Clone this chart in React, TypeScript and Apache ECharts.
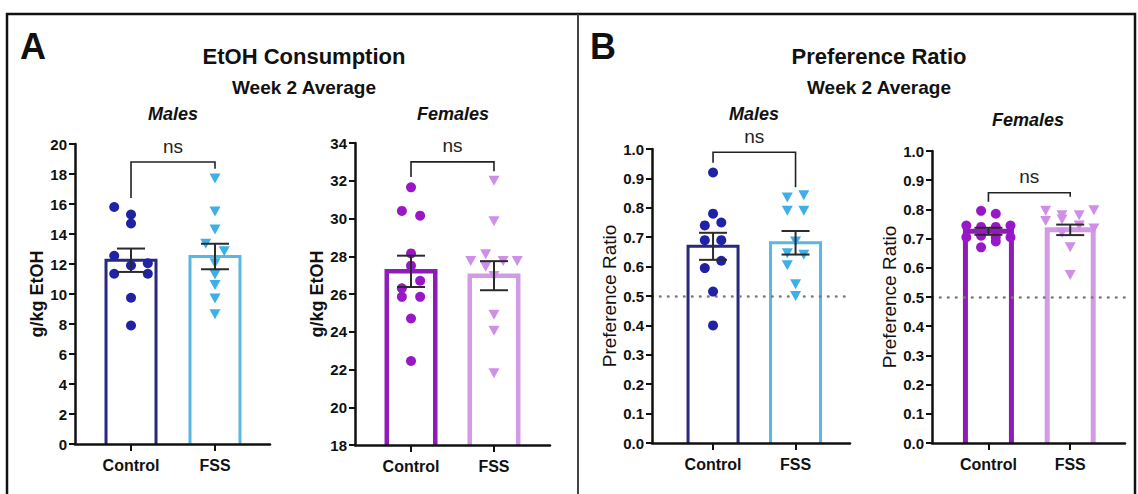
import React, { useEffect, useRef } from "react";
import * as echarts from "echarts";

// ---------- DATA ----------
const categories = ["Control", "FSS"];

// Panel A – EtOH consumption (g/kg), Males
const aMaleControl = [15.8, 15.3, 14.7, 12.55, 11.9, 12.05, 11.35, 11.35, 9.75, 7.9];
const aMaleControlJitter = [-0.2, 0, 0, -0.2, 0, 0.2, -0.2, 0.2, 0, 0];
const aMaleFSS = [17.7, 15.5, 14.3, 13.35, 12.85, 12.05, 11.3, 10.6, 9.7, 8.65];
const aMaleFSSJitter = [0, 0, 0, -0.11, 0.11, 0, 0, 0, 0, 0];
const aMaleMean = [12.25, 12.5];
const aMaleSem = [0.78, 0.85];
const aMaleBracket = [16.4, 18.8, 18.35];

// Panel A – Females
const aFemaleControl = [31.65, 30.4, 30.15, 28.15, 27.5, 26.7, 26.3, 25.85, 25.85, 24.7, 22.45];
const aFemaleControlJitter = [0, -0.11, 0.11, 0, 0, 0.11, -0.11, -0.11, 0.11, 0, 0];
const aFemaleFSS = [32.0, 29.85, 28.1, 27.75, 27.75, 27.75, 27.45, 26.95, 24.9, 24.05, 21.8];
const aFemaleFSSJitter = [0, 0, -0.1, -0.28, 0.11, 0.28, -0.1, 0, 0, 0, 0];
const aFemaleMean = [27.2, 26.97];
const aFemaleSem = [0.83, 0.77];
const aFemaleBracket = [32.2, 33.0, 32.5];

// Panel B – Preference ratio, Males
const bMaleControl = [0.92, 0.78, 0.74, 0.75, 0.69, 0.69, 0.595, 0.62, 0.515, 0.4];
const bMaleControlJitter = [0, 0, -0.1, 0.1, -0.1, 0.1, -0.1, 0.1, 0, 0];
const bMaleFSS = [0.835, 0.843, 0.79, 0.79, 0.685, 0.645, 0.64, 0.605, 0.54, 0.5];
const bMaleFSSJitter = [-0.1, 0.1, -0.1, 0.1, 0, -0.1, 0.1, -0.1, 0, 0];
const bMaleMean = [0.669, 0.681];
const bMaleSem = [0.046, 0.04];
const bMaleBracket = [0.953, 0.989, 0.87];

// Panel B – Females
const bFemaleControl = [0.795, 0.785, 0.745, 0.74, 0.74, 0.745, 0.705, 0.71, 0.705, 0.705, 0.67, 0.69];
const bFemaleControlJitter = [-0.09, 0.09, -0.27, -0.09, 0.09, 0.27, -0.27, -0.09, 0.09, 0.27, -0.09, 0.09];
const bFemaleFSS = [0.795, 0.78, 0.78, 0.797, 0.76, 0.765, 0.745, 0.735, 0.72, 0.67, 0.575];
const bFemaleFSSJitter = [-0.3, -0.1, 0.11, 0.29, -0.3, -0.1, 0.11, 0.29, -0.1, 0, 0];
const bFemaleMean = [0.725, 0.73];
const bFemaleSem = [0.012, 0.018];
const bFemaleBracket = [0.826, 0.857, 0.843];

const chanceLevel = 0.5;
const sigLabel = "ns";

// ---------- STYLE ----------
const FONT = "'Liberation Sans', Arial, Helvetica, sans-serif";
const INK = "#111";
const NAVY_DOT = "#1f22a6";
const NAVY_BAR = "#28297c";
const BLUE_DOT = "#3fafe9";
const BLUE_BAR = "#5cb6e2";
const PURPLE_DOT = "#9a17c8";
const PURPLE_BAR = "#8f1cb6";
const LILAC_DOT = "#cf8fe6";
const LILAC_BAR = "#d39be6";

type Panel = {
  grid: { left: number; top: number; width: number; height: number };
  xMin: number;
  xMax: number;
  yMin: number;
  yMax: number;
  yInterval: number;
  decimals: number;
  yName: string;
  yNameBold: boolean;
  control: number[];
  controlJitter: number[];
  fss: number[];
  fssJitter: number[];
  mean: number[];
  sem: number[];
  bracket: number[];
  colors: { cDot: string; cBar: string; fDot: string; fBar: string };
  barWidth: number;
  border: number;
  chance: boolean;
};

const panels: Panel[] = [
  {
    grid: { left: 75, top: 144, width: 195, height: 300 },
    xMin: -0.667, xMax: 1.655, yMin: 0, yMax: 20, yInterval: 2, decimals: 0,
    yName: "g/kg EtOH", yNameBold: true,
    control: aMaleControl, controlJitter: aMaleControlJitter,
    fss: aMaleFSS, fssJitter: aMaleFSSJitter,
    mean: aMaleMean, sem: aMaleSem, bracket: aMaleBracket,
    colors: { cDot: NAVY_DOT, cBar: NAVY_BAR, fDot: BLUE_DOT, fBar: BLUE_BAR },
    barWidth: 50, border: 3, chance: false,
  },
  {
    grid: { left: 355, top: 143, width: 195, height: 302 },
    xMin: -0.675, xMax: 1.675, yMin: 18, yMax: 34, yInterval: 2, decimals: 0,
    yName: "g/kg EtOH", yNameBold: true,
    control: aFemaleControl, controlJitter: aFemaleControlJitter,
    fss: aFemaleFSS, fssJitter: aFemaleFSSJitter,
    mean: aFemaleMean, sem: aFemaleSem, bracket: aFemaleBracket,
    colors: { cDot: PURPLE_DOT, cBar: PURPLE_BAR, fDot: LILAC_DOT, fBar: LILAC_BAR },
    barWidth: 48.5, border: 4.5, chance: false,
  },
  {
    grid: { left: 652, top: 149, width: 198, height: 294 },
    xMin: -0.74, xMax: 1.66, yMin: 0, yMax: 1, yInterval: 0.1, decimals: 1,
    yName: "Preference Ratio", yNameBold: false,
    control: bMaleControl, controlJitter: bMaleControlJitter,
    fss: bMaleFSS, fssJitter: bMaleFSSJitter,
    mean: bMaleMean, sem: bMaleSem, bracket: bMaleBracket,
    colors: { cDot: NAVY_DOT, cBar: NAVY_BAR, fDot: BLUE_DOT, fBar: BLUE_BAR },
    barWidth: 50, border: 3, chance: true,
  },
  {
    grid: { left: 932, top: 151, width: 193, height: 292 },
    xMin: -0.69, xMax: 1.67, yMin: 0, yMax: 1, yInterval: 0.1, decimals: 1,
    yName: "Preference Ratio", yNameBold: false,
    control: bFemaleControl, controlJitter: bFemaleControlJitter,
    fss: bFemaleFSS, fssJitter: bFemaleFSSJitter,
    mean: bFemaleMean, sem: bFemaleSem, bracket: bFemaleBracket,
    colors: { cDot: PURPLE_DOT, cBar: PURPLE_BAR, fDot: LILAC_DOT, fBar: LILAC_BAR },
    barWidth: 46, border: 5, chance: true,
  },
];

function buildOption() {
  const grid = panels.map((p) => ({ ...p.grid, containLabel: false }));
  const xAxis = panels.map((p, i) => ({
    type: "value",
    gridIndex: i,
    min: p.xMin,
    max: p.xMax,
    z: 10,
    axisLine: { show: true, onZero: false, lineStyle: { color: INK, width: 2.5 } },
    axisTick: { show: true, customValues: [0, 1], length: 7, lineStyle: { color: INK, width: 2 } },
    axisLabel: {
      show: true,
      customValues: [0, 1],
      formatter: (v: number) => categories[Math.round(v)] ?? "",
      fontFamily: FONT,
      fontSize: 16,
      fontWeight: "bold",
      color: INK,
      margin: 13,
    },
    splitLine: { show: false },
  }));
  const yAxis = panels.map((p, i) => ({
    type: "value",
    gridIndex: i,
    min: p.yMin,
    max: p.yMax,
    interval: p.yInterval,
    z: 10,
    name: p.yName,
    nameLocation: "middle",
    nameGap: p.yNameBold ? 29 : 31,
    nameTextStyle: {
      fontFamily: FONT,
      fontSize: p.yNameBold ? 18 : 19,
      fontWeight: p.yNameBold ? "bold" : "normal",
      color: INK,
    },
    axisLine: { show: true, onZero: false, lineStyle: { color: INK, width: 2.5 } },
    axisTick: { show: true, length: 6, lineStyle: { color: INK, width: 2 } },
    axisLabel: {
      fontFamily: FONT,
      fontSize: 15,
      fontWeight: "bold",
      color: INK,
      margin: 8,
      formatter: (v: number) => v.toFixed(p.decimals),
    },
    splitLine: { show: false },
  }));

  const series: any[] = [];
  panels.forEach((p, i) => {
    // Bars: open at the bottom (GraphPad style), drawn through the axes' scales
    series.push({
      type: "custom",
      xAxisIndex: i,
      yAxisIndex: i,
      z: 1,
      clip: false,
      encode: { x: 0, y: 1 },
      data: p.mean.map((m, k) => [k, m]),
      renderItem: (params: any, api: any) => {
        const k = api.value(0);
        const m = api.value(1);
        const top = api.coord([k, m]);
        const base = api.coord([k, p.yMin]);
        const hw = p.barWidth / 2;
        const color = k === 0 ? p.colors.cBar : p.colors.fBar;
        return {
          type: "group",
          children: [
            {
              type: "rect",
              shape: { x: top[0] - hw, y: top[1], width: hw * 2, height: base[1] - top[1] },
              style: { fill: "#fff", stroke: "none" },
            },
            {
              type: "polyline",
              shape: {
                points: [
                  [top[0] - hw, base[1] + 1],
                  [top[0] - hw, top[1]],
                  [top[0] + hw, top[1]],
                  [top[0] + hw, base[1] + 1],
                ],
              },
              style: { stroke: color, lineWidth: p.border, fill: "none", lineJoin: "miter" },
            },
          ],
        };
      },
    });
    const ctrl: any = {
      type: "scatter",
      xAxisIndex: i,
      yAxisIndex: i,
      symbol: "circle",
      symbolSize: 10,
      z: 3,
      itemStyle: { color: p.colors.cDot, opacity: 1 },
      data: p.control.map((v, k) => [0 + p.controlJitter[k], v]),
    };
    if (p.chance) {
      ctrl.markLine = {
        silent: true,
        symbol: "none",
        z: 2,
        label: { show: false },
        lineStyle: { color: "#7a7a7a", type: [0.5, 7.5], width: 2.6, cap: "round" },
        data: [{ yAxis: chanceLevel }],
      };
    }
    series.push(ctrl);
    series.push({
      type: "scatter",
      xAxisIndex: i,
      yAxisIndex: i,
      symbol: "triangle",
      symbolRotate: 180,
      symbolSize: [11, 10],
      z: 3,
      itemStyle: { color: p.colors.fDot, opacity: 1 },
      data: p.fss.map((v, k) => [1 + p.fssJitter[k], v]),
    });
    series.push({
      type: "custom",
      xAxisIndex: i,
      yAxisIndex: i,
      z: 4,
      clip: false,
      encode: { x: 0, y: 1 },
      data: p.mean.map((m, k) => [k, m, p.sem[k]]),
      renderItem: (params: any, api: any) => {
        const x = api.value(0);
        const m = api.value(1);
        const s = api.value(2);
        const top = api.coord([x, m + s]);
        const bot = api.coord([x, m - s]);
        const hc = 14;
        const st = { stroke: "#2b2b2b", lineWidth: 2, fill: "none" };
        return {
          type: "group",
          children: [
            { type: "line", shape: { x1: top[0], y1: top[1], x2: bot[0], y2: bot[1] }, style: st },
            { type: "line", shape: { x1: top[0] - hc, y1: top[1], x2: top[0] + hc, y2: top[1] }, style: st },
            { type: "line", shape: { x1: bot[0] - hc, y1: bot[1], x2: bot[0] + hc, y2: bot[1] }, style: st },
          ],
        };
      },
    });
    series.push({
      type: "custom",
      xAxisIndex: i,
      yAxisIndex: i,
      z: 4,
      clip: false,
      encode: { x: 0, y: 1 },
      data: [[0, p.bracket[1], p.bracket[0], p.bracket[2]]],
      renderItem: (params: any, api: any) => {
        const topV = api.value(1);
        const lb = api.value(2);
        const rb = api.value(3);
        const p1 = api.coord([0, lb]);
        const p2 = api.coord([0, topV]);
        const p3 = api.coord([1, topV]);
        const p4 = api.coord([1, rb]);
        return {
          type: "group",
          children: [
            {
              type: "polyline",
              shape: { points: [p1, p2, p3, p4] },
              style: { stroke: "#222", lineWidth: 1.6, fill: "none" },
            },
            {
              type: "text",
              x: (p2[0] + p3[0]) / 2,
              y: p2[1] - 16,
              style: {
                text: sigLabel,
                font: `19px ${FONT}`,
                fill: "#222",
                align: "center",
                verticalAlign: "middle",
                textAlign: "center",
                textVerticalAlign: "middle",
              },
            },
          ],
        };
      },
    });
  });

  const txt = (text: string, x: number, y: number, font: string) => ({
    type: "text",
    x,
    y,
    silent: true,
    style: {
      text,
      font,
      fill: INK,
      align: "center",
      verticalAlign: "middle",
      textAlign: "center",
      textVerticalAlign: "middle",
    },
  });

  const graphic = [
    {
      type: "rect",
      silent: true,
      shape: { x: 7, y: 14, width: 1128, height: 500 },
      style: { fill: "none", stroke: "#111", lineWidth: 2.5 },
      z: 100,
    },
    {
      type: "line",
      silent: true,
      shape: { x1: 578, y1: 14, x2: 578, y2: 500 },
      style: { stroke: "#444", lineWidth: 2 },
      z: 100,
    },
    txt("A", 33, 46, `bold 36px ${FONT}`),
    txt("B", 603, 46, `bold 36px ${FONT}`),
    txt("EtOH Consumption", 304, 56, `bold 22px ${FONT}`),
    txt("Week 2 Average", 304, 87, `bold 19px ${FONT}`),
    txt("Preference Ratio", 879, 56, `bold 22px ${FONT}`),
    txt("Week 2 Average", 879, 87, `bold 19px ${FONT}`),
    txt("Males", 173, 114, `italic bold 18px ${FONT}`),
    txt("Females", 453, 114, `italic bold 18px ${FONT}`),
    txt("Males", 754, 114, `italic bold 18px ${FONT}`),
    txt("Females", 1028, 120, `italic bold 18px ${FONT}`),
  ];

  return {
    animation: false,
    backgroundColor: "#fff",
    grid,
    xAxis,
    yAxis,
    series,
    graphic,
  };
}

export default function App() {
  const ref = useRef<HTMLDivElement>(null);
  useEffect(() => {
    if (!ref.current) return;
    const chart = echarts.init(ref.current, null, { renderer: "svg" });
    chart.setOption(buildOption() as any);
    return () => chart.dispose();
  }, []);
  return (
    <div
      ref={ref}
      style={{ position: "fixed", left: 0, top: 0, width: 1138, height: 494, background: "#fff" }}
    />
  );
}
